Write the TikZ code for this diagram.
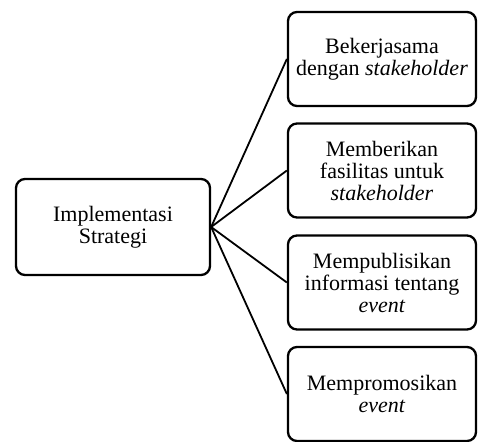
\documentclass[tikz,border=0pt]{standalone}
\usepackage{fontspec}
\setmainfont{Liberation Serif}
\usetikzlibrary{calc}
\begin{document}
\begin{tikzpicture}[x=1pt,y=-1pt]
            \tikzstyle{box}=[rectangle,rounded corners=9pt,draw=black,line width=2.3pt,align=center,inner sep=0pt,font=\fontsize{22}{22}\selectfont]
            \tikzstyle{goal}=[box,minimum width=188pt,minimum height=94pt]
            \useasboundingbox (0,0) rectangle (478,441);
            \node[box,minimum width=194pt,minimum height=96pt] (s) at (113,227) {Implementasi\\Strategi};
            \node[goal] (a) at (382,59) {Bekerjasama\\dengan \textit{stakeholder}};
            \node[goal] (b) at (382,170.5) {Memberikan\\fasilitas untuk\\\textit{stakeholder}};
            \node[goal] (c) at (382,282.5) {Mempublisikan\\informasi tentang\\\textit{event}};
            \node[goal] (d) at (382,394) {Mempromosikan\\\textit{event}};
            \draw[line width=1.8pt] (s.east) -- (a.west);
            \draw[line width=1.8pt] (s.east) -- (b.west);
            \draw[line width=1.8pt] (s.east) -- (c.west);
            \draw[line width=1.8pt] (s.east) -- (d.west);
        \end{tikzpicture}
\end{document}
